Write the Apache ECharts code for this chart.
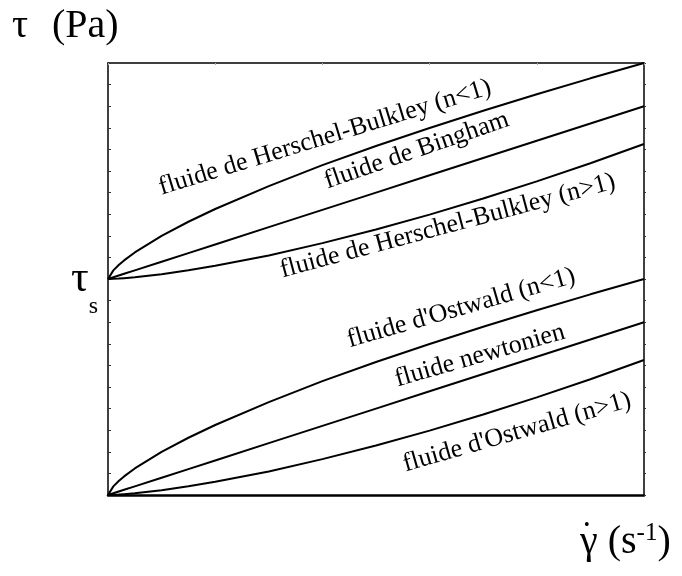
<!DOCTYPE html>
<html lang="fr">
<head>
    <meta charset="UTF-8">
    <title>Rhéogrammes</title>
    <script src="https://cdn.jsdelivr.net/npm/echarts@6/dist/echarts.min.js"></script>
    <style>
        html, body { margin: 0; padding: 0; background: #fff; }
    </style>
</head>
<body>
    <div id="main" style="width: 682px;height:576px;"></div>
    <script>
        // shear rate (normalised 0..1) and stress values (y axis 0..20, tau_s = 10)
        var rate = [0, 0.01, 0.02, 0.03, 0.05, 0.1, 0.15, 0.2, 0.3, 0.4, 0.5, 0.6, 0.7, 0.8, 0.9, 1.0];
        var hbLow = [10, 10.4, 10.65, 10.86, 11.23, 12.0, 12.65, 13.24, 14.3, 15.27, 16.16, 16.99, 17.79, 18.55, 19.29, 20];
        var bingham = [10, 10.08, 10.16, 10.24, 10.4, 10.8, 11.2, 11.6, 12.4, 13.2, 14.0, 14.8, 15.6, 16.4, 17.2, 18.0];
        var hbHigh = [10, 10.01, 10.02, 10.04, 10.08, 10.22, 10.4, 10.61, 11.09, 11.66, 12.29, 12.98, 13.73, 14.52, 15.36, 16.25];
        var ostLow = [0, 0.4, 0.65, 0.86, 1.23, 2.0, 2.65, 3.24, 4.3, 5.27, 6.16, 6.99, 7.79, 8.55, 9.29, 10];
        var newton = [0, 0.08, 0.16, 0.24, 0.4, 0.8, 1.2, 1.6, 2.4, 3.2, 4.0, 4.8, 5.6, 6.4, 7.2, 8.0];
        var ostHigh = [0, 0.01, 0.02, 0.04, 0.08, 0.22, 0.40, 0.61, 1.09, 1.66, 2.29, 2.98, 3.73, 4.52, 5.36, 6.25];
        var tauS = 10;

        var names = [
            'fluide de Herschel-Bulkley (n<1)',
            'fluide de Bingham',
            'fluide de Herschel-Bulkley (n>1)',
            "fluide d'Ostwald (n<1)",
            'fluide newtonien',
            "fluide d'Ostwald (n>1)"
        ];
        var curves = [hbLow, bingham, hbHigh, ostLow, newton, ostHigh];

        // where each curve name is written: [x, y, angle]
        var notes = [
            [0.405, 16.55, 17],
            [0.576, 15.95, 19],
            [0.634, 12.45, 15],
            [0.659, 8.65, 16],
            [0.694, 6.45, 16],
            [0.763, 2.9, 16]
        ];

        var serif = '"Liberation Serif", "DejaVu Serif", serif';

        var series = curves.map(function (vals, i) {
            return {
                type: 'line',
                name: names[i],
                data: vals.map(function (v, k) { return [rate[k], v]; }),
                showSymbol: false,
                smooth: false,
                lineStyle: { color: '#000', width: 2 },
                markPoint: {
                    symbol: 'circle',
                    symbolSize: 0,
                    silent: true,
                    data: [{
                        coord: [notes[i][0], notes[i][1]],
                        label: {
                            show: true,
                            position: 'inside',
                            formatter: names[i],
                            rotate: notes[i][2],
                            color: '#000',
                            fontSize: 26,
                            fontFamily: serif
                        }
                    }]
                }
            };
        });

        var myChart = echarts.init(document.getElementById('main'));
        var option = {
            animation: false,
            backgroundColor: '#fff',
            grid: { left: 108, right: 38, top: 63, bottom: 81 },
            xAxis: [
                {
                    type: 'value', min: 0, max: 1, position: 'bottom',
                    axisLine: { onZero: false, lineStyle: { color: '#000', width: 2.5 } },
                    axisTick: { show: false },
                    axisLabel: { show: false },
                    splitLine: { show: false }
                },
                {
                    type: 'value', min: 0, max: 1, interval: 0.2, position: 'top',
                    axisLine: { onZero: false, lineStyle: { color: '#000', width: 1.5 } },
                    axisTick: { inside: true, length: 2, lineStyle: { color: '#aaa' } },
                    axisLabel: { show: false },
                    splitLine: { show: false }
                }
            ],
            yAxis: [
                {
                    type: 'value', min: 0, max: 20, interval: 1, position: 'left',
                    axisLine: { show: true, onZero: false, lineStyle: { color: '#000', width: 1.5 } },
                    axisTick: { inside: true, length: 3, lineStyle: { color: '#333' } },
                    axisLabel: {
                        margin: 10,
                        formatter: function (v) { return v === tauS ? '{t|τ}{s|s}' : ''; },
                        rich: {
                            t: { fontSize: 44, fontFamily: serif, color: '#000' },
                            s: { fontSize: 24, fontFamily: serif, color: '#000', padding: [56, 0, 0, 0] }
                        }
                    },
                    splitLine: { show: false }
                },
                {
                    type: 'value', min: 0, max: 20, interval: 1, position: 'right',
                    axisLine: { show: true, onZero: false, lineStyle: { color: '#000', width: 1.5 } },
                    axisTick: { length: 2, lineStyle: { color: '#333' } },
                    axisLabel: { show: false },
                    splitLine: { show: false }
                }
            ],
            graphic: [
                {
                    type: 'text', left: 12, top: 6,
                    style: { text: 'τ', fontSize: 40, fontFamily: serif, fill: '#000' }
                },
                {
                    type: 'text', left: 52, top: 6,
                    style: { text: '(Pa)', fontSize: 40, fontFamily: serif, fill: '#000' }
                },
                {
                    type: 'text', left: 580, top: 521,
                    style: {
                        text: '{a|γ (s}{b|-1}{a|)}',
                        rich: {
                            a: { fontSize: 40, fontFamily: serif, fill: '#000' },
                            b: { fontSize: 25, fontFamily: serif, fill: '#000', padding: [0, 0, 18, 0] }
                        }
                    }
                },
                {
                    type: 'text', left: 584, top: 518,
                    style: { text: '•', fontSize: 16, fontFamily: serif, fill: '#000' }
                }
            ],
            series: series
        };
        option && myChart.setOption(option);
    </script>
</body>
</html>
